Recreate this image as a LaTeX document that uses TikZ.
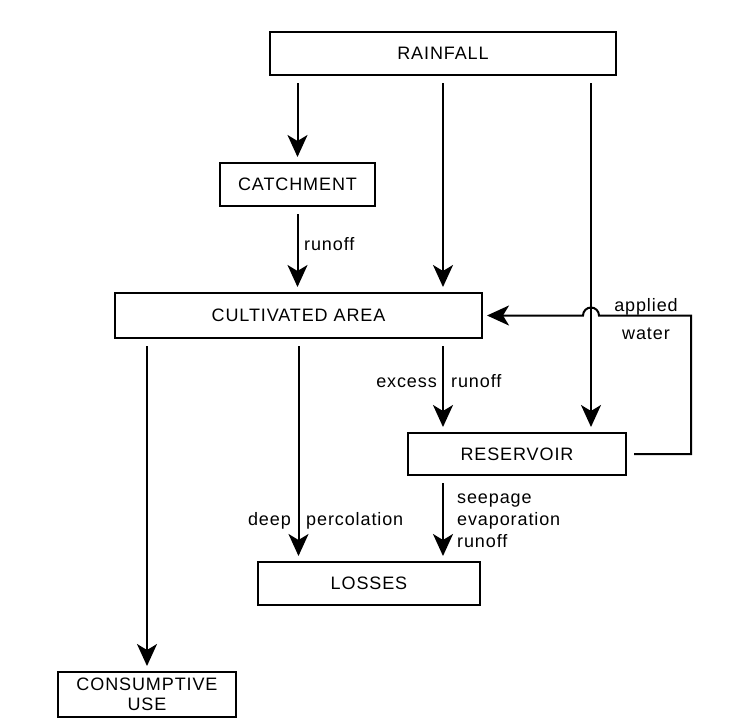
\documentclass[tikz,border=0pt]{standalone}
\usepackage{fontspec}
\setmainfont[LetterSpace=5]{Liberation Sans}
\usetikzlibrary{arrows.meta}
\begin{document}
\begin{tikzpicture}[x=1pt,y=1pt,
  box/.style={draw, line width=2pt, inner sep=0pt, font=\fontsize{18}{20}\selectfont, align=center},
  lbl/.style={inner sep=0pt, font=\fontsize{18}{20}\selectfont},
  tip/.style={-{Stealth[length=22pt,width=20pt,inset=6pt]}},
  arr/.style={line width=2pt, tip, shorten <=7pt, shorten >=5pt}]
\fill[white] (0,0) rectangle (737,-726);
\useasboundingbox (0,0) rectangle (737,-726);
\node[box, minimum width=346pt, minimum height=43pt] (rain) at (443,-53.5) {RAINFALL};
\node[box, minimum width=155pt, minimum height=43pt] (catch) at (297.5,-184.5) {CATCHMENT};
\node[box, minimum width=367pt, minimum height=45pt] (cult) at (298.5,-315.5) {CULTIVATED AREA};
\node[box, minimum width=218pt, minimum height=42pt] (res) at (517,-454) {RESERVOIR};
\node[box, minimum width=222pt, minimum height=43pt] (loss) at (369,-583.5) {LOSSES};
\node[box, minimum width=178pt, minimum height=45pt] (cons) at (147,-694.5) {CONSUMPTIVE\\USE};
\coordinate (c3) at (591,0);
\coordinate (cr) at (691,0);
% arrows
\draw[arr] (catch.north |- rain.south) -- (catch.north);
\draw[arr] (catch.south) -- (catch.south |- cult.north);
\draw[arr] (rain.south) -- (rain.south |- cult.north);
\draw[arr] (rain.south -| c3) -- (res.north -| c3);
\draw[arr] (cons.north |- cult.south) -- (cons.north);
\draw[arr] (cult.south) -- (cult.south |- loss.north);
\draw[arr] (rain.south |- cult.south) -- (rain.south |- res.north);
\draw[arr] (rain.south |- res.south) -- (rain.south |- loss.north);
\draw[line width=2pt, tip, shorten >=4pt] ([xshift=7pt]res.east) -- (res.east -| cr) -- (cr |- cult.east) -- ([xshift=8pt]c3 |- cult.east) arc[start angle=0, end angle=180, radius=8pt] -- (cult.east);
% labels
\node[lbl, anchor=base west] (l1) at (304,-250) {runoff};
\node[lbl, anchor=base east] (l2) at (437,-387) {excess};
\node[lbl, anchor=base west] (l3) at (451,-387) {runoff};
\node[lbl, anchor=base] (l4) at (646,-311) {applied};
\node[lbl, anchor=base] (l5) at (646,-339) {water};
\node[lbl, anchor=base east] (l6) at (291,-525) {deep};
\node[lbl, anchor=base west] (l7) at (306,-525) {percolation};
\node[lbl, anchor=base west] (l8) at (457,-503) {seepage};
\node[lbl, anchor=base west] (l9) at (457,-525) {evaporation};
\node[lbl, anchor=base west] (l10) at (457,-547) {runoff};
\end{tikzpicture}
\end{document}
